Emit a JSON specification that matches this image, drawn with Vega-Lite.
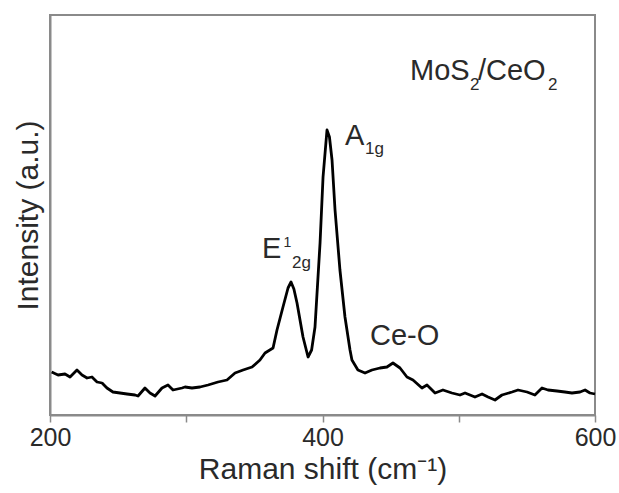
{
  "$schema": "https://vega.github.io/schema/vega-lite/v6.json",
  "width": 545,
  "height": 400,
  "autosize": {"type": "none"},
  "padding": {"left": 50, "top": 15, "right": 24, "bottom": 78},
  "background": "white",
  "config": {
    "view": {"stroke": "#8a8a8a", "strokeWidth": 2},
    "font": "Liberation Sans"
  },
  "datasets": {
    "spectrum": [
      {"shift": 201.2, "intensity": 43}, {"shift": 205.9, "intensity": 40}, {"shift": 211.0, "intensity": 41},
      {"shift": 214.7, "intensity": 38}, {"shift": 219.8, "intensity": 45}, {"shift": 223.5, "intensity": 40},
      {"shift": 227.2, "intensity": 37}, {"shift": 230.8, "intensity": 38}, {"shift": 234.5, "intensity": 33},
      {"shift": 238.2, "intensity": 32}, {"shift": 241.8, "intensity": 27}, {"shift": 246.2, "intensity": 23},
      {"shift": 251.4, "intensity": 22}, {"shift": 256.5, "intensity": 21}, {"shift": 262.4, "intensity": 20},
      {"shift": 264.6, "intensity": 19}, {"shift": 269.7, "intensity": 27}, {"shift": 273.4, "intensity": 22},
      {"shift": 277.1, "intensity": 19}, {"shift": 282.2, "intensity": 27}, {"shift": 286.6, "intensity": 30},
      {"shift": 290.3, "intensity": 25}, {"shift": 296.9, "intensity": 27}, {"shift": 299.1, "intensity": 28},
      {"shift": 304.2, "intensity": 27}, {"shift": 310.1, "intensity": 28}, {"shift": 316.0, "intensity": 30},
      {"shift": 323.3, "intensity": 33}, {"shift": 329.9, "intensity": 35}, {"shift": 335.8, "intensity": 42},
      {"shift": 341.7, "intensity": 45}, {"shift": 348.3, "intensity": 48}, {"shift": 354.1, "intensity": 55},
      {"shift": 357.8, "intensity": 62}, {"shift": 363.7, "intensity": 67}, {"shift": 366.6, "intensity": 85},
      {"shift": 371.0, "intensity": 108}, {"shift": 374.7, "intensity": 127}, {"shift": 376.9, "intensity": 133},
      {"shift": 379.0, "intensity": 126}, {"shift": 381.3, "intensity": 112}, {"shift": 385.7, "intensity": 78},
      {"shift": 389.4, "intensity": 58}, {"shift": 392.0, "intensity": 65}, {"shift": 394.5, "intensity": 88},
      {"shift": 398.2, "intensity": 172}, {"shift": 400.4, "intensity": 238}, {"shift": 403.3, "intensity": 285},
      {"shift": 405.1, "intensity": 278}, {"shift": 407.0, "intensity": 255}, {"shift": 409.2, "intensity": 205},
      {"shift": 412.8, "intensity": 145}, {"shift": 416.5, "intensity": 98}, {"shift": 420.2, "intensity": 65},
      {"shift": 421.6, "intensity": 55}, {"shift": 426.0, "intensity": 45}, {"shift": 431.2, "intensity": 42},
      {"shift": 436.3, "intensity": 45}, {"shift": 442.2, "intensity": 47}, {"shift": 447.3, "intensity": 48},
      {"shift": 451.7, "intensity": 52}, {"shift": 456.9, "intensity": 47}, {"shift": 462.0, "intensity": 38},
      {"shift": 466.4, "intensity": 35}, {"shift": 473.0, "intensity": 27}, {"shift": 476.7, "intensity": 30},
      {"shift": 482.6, "intensity": 22}, {"shift": 488.4, "intensity": 25}, {"shift": 495.0, "intensity": 22},
      {"shift": 500.9, "intensity": 20}, {"shift": 504.6, "intensity": 22}, {"shift": 511.9, "intensity": 18},
      {"shift": 517.1, "intensity": 21}, {"shift": 521.5, "intensity": 18}, {"shift": 526.6, "intensity": 15},
      {"shift": 531.7, "intensity": 20}, {"shift": 539.1, "intensity": 23}, {"shift": 543.5, "intensity": 25},
      {"shift": 550.1, "intensity": 23}, {"shift": 555.9, "intensity": 20}, {"shift": 561.1, "intensity": 27},
      {"shift": 565.5, "intensity": 25}, {"shift": 572.1, "intensity": 24}, {"shift": 577.9, "intensity": 23},
      {"shift": 583.1, "intensity": 22}, {"shift": 589.0, "intensity": 23}, {"shift": 592.7, "intensity": 25},
      {"shift": 596.3, "intensity": 22}, {"shift": 600.0, "intensity": 21}
    ],
    "mainLabels": [
      {"shift": 416.5, "intensity": 270, "text": "A"},
      {"shift": 355.6, "intensity": 157, "text": "E"},
      {"shift": 434.9, "intensity": 70, "text": "Ce-O"},
      {"shift": 464.2, "intensity": 335, "text": "MoS"},
      {"shift": 514.1, "intensity": 335, "text": "/CeO"}
    ],
    "smallLabels": [
      {"shift": 431.2, "intensity": 261, "text": "1g"},
      {"shift": 377.6, "intensity": 147, "text": "2g"},
      {"shift": 508.2, "intensity": 325, "text": "2"},
      {"shift": 565.5, "intensity": 325, "text": "2"}
    ],
    "supLabels": [
      {"shift": 371.4, "intensity": 168, "text": "1"}
    ]
  },
  "layer": [
    {
      "data": {"name": "spectrum"},
      "mark": {"type": "line", "color": "black", "strokeWidth": 2.8, "interpolate": "linear", "strokeJoin": "round"},
      "encoding": {
        "x": {
          "field": "shift", "type": "quantitative",
          "scale": {"domain": [200, 600], "nice": false, "zero": false},
          "axis": {
            "title": "Raman shift (cm⁻¹)",
            "values": [200, 300, 400, 500, 600],
            "labelExpr": "datum.value % 200 === 0 ? datum.label : ''",
            "grid": false,
            "domainColor": "#8a8a8a", "domainWidth": 2,
            "tickColor": "#8a8a8a", "tickWidth": 1.5, "tickSize": 7,
            "labelFont": "Liberation Sans", "labelFontSize": 25, "labelColor": "#2a2a2a",
            "labelPadding": 3, "labelFlush": false,
            "titleFont": "Liberation Sans", "titleFontSize": 30, "titleFontWeight": "normal",
            "titleColor": "#2a2a2a", "titlePadding": 4
          }
        },
        "y": {
          "field": "intensity", "type": "quantitative",
          "scale": {"domain": [0, 400], "nice": false},
          "axis": {
            "title": "Intensity (a.u.)",
            "labels": false, "ticks": false, "grid": false,
            "domainColor": "#8a8a8a", "domainWidth": 2,
            "titleFont": "Liberation Sans", "titleFontSize": 30, "titleFontWeight": "normal",
            "titleColor": "#2a2a2a", "titlePadding": 7
          }
        }
      }
    },
    {
      "data": {"name": "mainLabels"},
      "mark": {"type": "text", "align": "left", "baseline": "alphabetic", "font": "Liberation Sans", "fontSize": 29, "color": "#2a2a2a"},
      "encoding": {
        "x": {"field": "shift", "type": "quantitative"},
        "y": {"field": "intensity", "type": "quantitative"},
        "text": {"field": "text"}
      }
    },
    {
      "data": {"name": "smallLabels"},
      "mark": {"type": "text", "align": "left", "baseline": "alphabetic", "font": "Liberation Sans", "fontSize": 17, "color": "#2a2a2a"},
      "encoding": {
        "x": {"field": "shift", "type": "quantitative"},
        "y": {"field": "intensity", "type": "quantitative"},
        "text": {"field": "text"}
      }
    },
    {
      "data": {"name": "supLabels"},
      "mark": {"type": "text", "align": "left", "baseline": "alphabetic", "font": "Liberation Sans", "fontSize": 14, "color": "#2a2a2a"},
      "encoding": {
        "x": {"field": "shift", "type": "quantitative"},
        "y": {"field": "intensity", "type": "quantitative"},
        "text": {"field": "text"}
      }
    }
  ]
}
